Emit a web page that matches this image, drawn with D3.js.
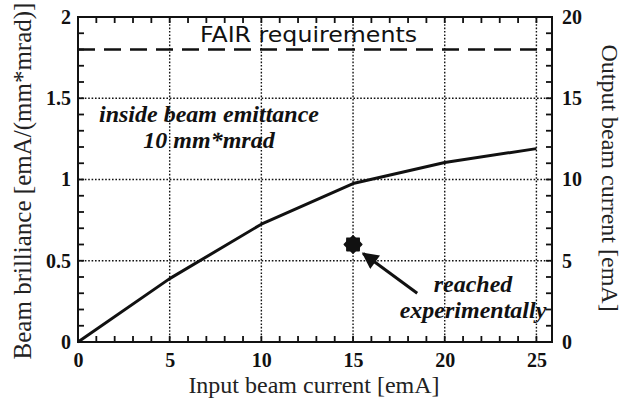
<!DOCTYPE html>
<html>
<head>
<meta charset="utf-8">
<script src="https://cdn.jsdelivr.net/npm/d3@7"></script>
<style>
  html, body { margin: 0; padding: 0; background: #fff; }
  svg { display: block; }
</style>
</head>
<body>
<svg id="chart" width="625" height="399"></svg>
<script>
// values
const inputCurrent = [0, 5, 10, 15, 20, 25];
const brilliance = [0, 0.39, 0.725, 0.975, 1.105, 1.19];
const fairLevel = 1.8;
const experiment = [15, 0.6];
const arrowFrom = [18.5, 0.3];
const arrowTo = [15.55, 0.545];
const xMajorTicks = [0, 5, 10, 15, 20, 25];
const yMajorTicks = [0, 0.5, 1, 1.5, 2];
const yRightTicks = [0, 5, 10, 15, 20];

const width = 625, height = 399;
const margin = {top: 17, right: 73, bottom: 57, left: 78};
const ink = "#111";
const tickLen = 6;

const svg = d3.select("#chart");

const x = d3.scaleLinear().domain([0, 25.85]).range([margin.left, width - margin.right]);
const y = d3.scaleLinear().domain([0, 2]).range([height - margin.bottom, margin.top]);
const yR = d3.scaleLinear().domain([0, 20]).range([height - margin.bottom, margin.top]);
const [xLeft, xRight] = x.range();
const [yBottom, yTop] = y.range();

// dotted grid
const grid = svg.append("g").attr("class", "grid");
grid.selectAll("line.v")
    .data(xMajorTicks.slice(1))
    .enter().append("line")
        .attr("class", "v")
        .attr("x1", d => x(d)).attr("x2", d => x(d))
        .attr("y1", yBottom).attr("y2", yTop);
grid.selectAll("line.h")
    .data(yMajorTicks.slice(1, -1))
    .enter().append("line")
        .attr("class", "h")
        .attr("x1", xLeft).attr("x2", xRight)
        .attr("y1", d => y(d)).attr("y2", d => y(d));
grid.selectAll("line")
    .attr("stroke", ink)
    .attr("stroke-width", 1.4)
    .attr("stroke-dasharray", "1.6,1.8");

// minor ticks on all four sides, pointing inside
const minorX = d3.range(0, 26, 1);
const minorY = d3.range(0, 21, 1);
const ticks = svg.append("g").attr("class", "minor");
ticks.selectAll("line.b")
    .data(minorX)
    .enter().append("line")
        .attr("class", "b")
        .attr("x1", d => x(d)).attr("x2", d => x(d))
        .attr("y1", yBottom).attr("y2", yBottom - tickLen);
ticks.selectAll("line.t")
    .data(minorX)
    .enter().append("line")
        .attr("class", "t")
        .attr("x1", d => x(d)).attr("x2", d => x(d))
        .attr("y1", yTop).attr("y2", yTop + tickLen);
ticks.selectAll("line.l")
    .data(minorY)
    .enter().append("line")
        .attr("class", "l")
        .attr("x1", xLeft).attr("x2", xLeft + tickLen)
        .attr("y1", d => yR(d)).attr("y2", d => yR(d));
ticks.selectAll("line.r")
    .data(minorY)
    .enter().append("line")
        .attr("class", "r")
        .attr("x1", xRight).attr("x2", xRight - tickLen)
        .attr("y1", d => yR(d)).attr("y2", d => yR(d));
ticks.selectAll("line")
    .attr("stroke", ink)
    .attr("stroke-width", 1.8);

// frame
svg.append("rect")
    .attr("x", xLeft).attr("y", yTop)
    .attr("width", xRight - xLeft)
    .attr("height", yBottom - yTop)
    .attr("fill", "none")
    .attr("stroke", ink)
    .attr("stroke-width", 2);

// tick labels
const labelStyle = (g) => {
    g.select(".domain").remove();
    g.selectAll(".tick line").remove();
    g.selectAll("text")
        .attr("fill", ink)
        .style("font", "bold 20px 'Liberation Serif', serif");
};
svg.append("g")
    .attr("transform", `translate(0,${yBottom})`)
    .call(d3.axisBottom(x).tickValues(xMajorTicks).tickSize(0).tickPadding(6))
    .call(labelStyle)
    .selectAll("text").attr("dy", "0.95em");
svg.append("g")
    .attr("transform", `translate(${xLeft},0)`)
    .call(d3.axisLeft(y).tickValues(yMajorTicks).tickSize(0).tickPadding(7).tickFormat(d3.format("")))
    .call(labelStyle);
svg.append("g")
    .attr("transform", `translate(${xRight},0)`)
    .call(d3.axisRight(yR).tickValues(yRightTicks).tickSize(0).tickPadding(10))
    .call(labelStyle);

// FAIR requirement line
svg.append("line")
    .attr("x1", xLeft).attr("x2", xRight)
    .attr("y1", y(fairLevel)).attr("y2", y(fairLevel))
    .attr("stroke", ink)
    .attr("stroke-width", 2.6)
    .attr("stroke-dasharray", "17,9");

// brilliance curve
const curve = d3.line()
    .x((d, i) => x(inputCurrent[i]))
    .y(d => y(d));
svg.append("path")
    .datum(brilliance)
    .attr("d", curve)
    .attr("fill", "none")
    .attr("stroke", ink)
    .attr("stroke-width", 3)
    .attr("stroke-linejoin", "round");

// measured point (gear-like burst)
const burst = d3.lineRadial()
    .angle((d, i) => i * Math.PI / 8)
    .radius(d => d)
    .curve(d3.curveCardinalClosed.tension(0.6));
svg.append("path")
    .attr("transform", `translate(${x(experiment[0])},${y(experiment[1])})`)
    .attr("d", burst(d3.range(16).map(i => i % 2 ? 7.6 : 9.6)))
    .attr("fill", ink);

// arrow
svg.append("defs").append("marker")
    .attr("id", "head")
    .attr("viewBox", "0 0 10 10")
    .attr("refX", 9).attr("refY", 5)
    .attr("markerWidth", 6.5).attr("markerHeight", 5.5)
    .attr("markerUnits", "strokeWidth")
    .attr("orient", "auto")
    .append("path")
        .attr("d", "M0,0 L10,5 L0,10 Z")
        .attr("fill", ink);
svg.append("line")
    .attr("x1", x(arrowFrom[0])).attr("y1", y(arrowFrom[1]))
    .attr("x2", x(arrowTo[0])).attr("y2", y(arrowTo[1]))
    .attr("stroke", ink)
    .attr("stroke-width", 3)
    .attr("marker-end", "url(#head)");

// annotations
const note = svg.append("g")
    .attr("fill", ink)
    .style("font", "italic bold 24px 'Liberation Serif', serif")
    .attr("text-anchor", "middle");
note.append("text").attr("x", 209).attr("y", 122).text("inside beam emittance");
note.append("text").attr("x", 209).attr("y", 148).text("10 mm*mrad");
note.append("text").attr("x", 473).attr("y", 292).text("reached");
note.append("text").attr("x", 473).attr("y", 318).text("experimentally");

svg.append("text")
    .attr("x", 200).attr("y", 42)
    .attr("textLength", 217)
    .attr("lengthAdjust", "spacingAndGlyphs")
    .attr("fill", ink)
    .style("font", "21px 'DejaVu Sans', sans-serif")
    .text("FAIR requirements");

// axis titles
svg.append("text")
    .attr("x", 314).attr("y", 393)
    .attr("text-anchor", "middle")
    .attr("fill", "#222")
    .style("font", "24px 'Liberation Serif', serif")
    .text("Input beam current [emA]");
svg.append("text")
    .attr("transform", "translate(31,181) rotate(-90)")
    .attr("text-anchor", "middle")
    .attr("fill", "#222")
    .style("font", "25px 'Liberation Serif', serif")
    .text("Beam brilliance [emA/(mm*mrad)]");
svg.append("text")
    .attr("transform", "translate(602,178) rotate(90)")
    .attr("text-anchor", "middle")
    .attr("fill", "#222")
    .style("font", "24px 'Liberation Serif', serif")
    .text("Output beam current [emA]");
</script>
</body>
</html>
